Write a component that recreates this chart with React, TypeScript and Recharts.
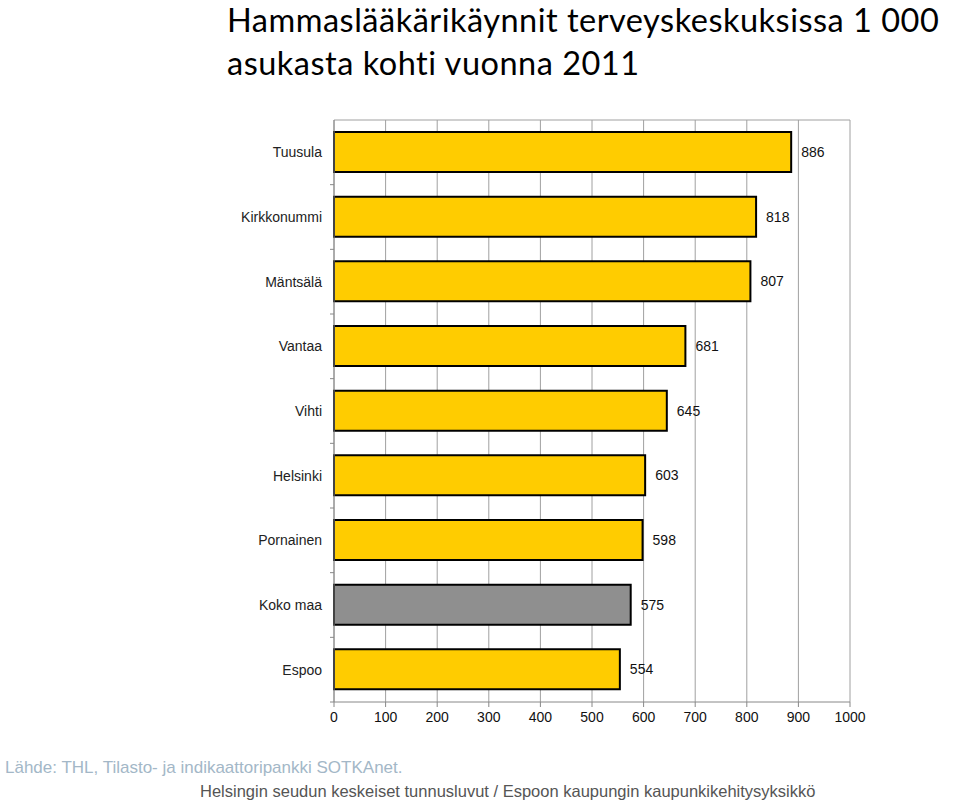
import { Bar, BarChart, CartesianGrid, Cell, LabelList, XAxis, YAxis } from "recharts"

const places = ["Tuusula", "Kirkkonummi", "Mäntsälä", "Vantaa", "Vihti", "Helsinki", "Pornainen", "Koko maa", "Espoo"]
const visits = [886, 818, 807, 681, 645, 603, 598, 575, 554]
const xTicks = [0, 100, 200, 300, 400, 500, 600, 700, 800, 900, 1000]

const data = places.map((name, i) => ({ name, value: visits[i] }))

const W = 960
const H = 803
const TOP = 120
const AXIS_Y = 702
const X_AXIS_H = 30
const BAND = (AXIS_Y - TOP) / places.length

const titleStyle = {
  position: "absolute" as const,
  left: 227,
  fontFamily: "Lato, 'Open Sans', sans-serif",
  fontSize: 32.5,
  letterSpacing: 0.5,
  lineHeight: "34px",
  color: "#000",
  whiteSpace: "nowrap" as const,
}

const CategoryTick = ({ x, y, payload }: any) => (
  <g>
    <text x={x - 4} y={y} dy={5} textAnchor="end" fontSize={14} fill="#222" fontFamily="Liberation Sans, Arial">
      {payload.value}
    </text>
    <line x1={x + 4} x2={x + 8} y1={y + BAND / 2} y2={y + BAND / 2} stroke="#888" />
  </g>
)

export default function App() {
  return (
    <div style={{ position: "absolute", left: 0, top: 0, width: W, height: H, background: "#fff", overflow: "hidden" }}>
      <div style={{ ...titleStyle, top: 3 }}>Hammaslääkärikäynnit terveyskeskuksissa 1 000</div>
      <div style={{ ...titleStyle, top: 46 }}>asukasta kohti vuonna 2011</div>
      <BarChart
        width={W}
        height={H}
        data={data}
        layout="vertical"
        margin={{ top: TOP, right: 110, bottom: H - AXIS_Y - X_AXIS_H, left: 0 }}
        barSize={40}
      >
        <CartesianGrid stroke="#a0a0a0" horizontalPoints={[TOP]} />
        <XAxis
          type="number"
          domain={[0, 1000]}
          ticks={xTicks}
          interval={0}
          height={X_AXIS_H}
          stroke="#888"
          tickSize={5}
          tickMargin={5}
          tick={{ fontSize: 14, fill: "#111", fontFamily: "Liberation Sans, Arial" }}
        />
        <YAxis
          type="category"
          dataKey="name"
          width={334}
          stroke="#888"
          tickLine={false}
          tick={<CategoryTick />}
          interval={0}
        />
        <Bar dataKey="value" stroke="#000" strokeWidth={2} isAnimationActive={false}>
          {data.map((d) => (
            <Cell key={d.name} fill={d.name === "Koko maa" ? "#8f8f8f" : "#ffcc00"} />
          ))}
          <LabelList
            dataKey="value"
            position="right"
            offset={10}
            fontSize={14}
            fill="#111"
            fontFamily="Liberation Sans, Arial"
          />
        </Bar>
      </BarChart>
      <div
        style={{
          position: "absolute",
          left: 5,
          top: 758,
          fontFamily: "Liberation Sans, Arial",
          fontSize: 17,
          color: "#a3b7c7",
          whiteSpace: "nowrap",
        }}
      >
        Lähde: THL, Tilasto- ja indikaattoripankki SOTKAnet.
      </div>
      <div
        style={{
          position: "absolute",
          left: 200,
          top: 782,
          fontFamily: "Liberation Sans, Arial",
          fontSize: 16.5,
          color: "#555",
          whiteSpace: "nowrap",
        }}
      >
        Helsingin seudun keskeiset tunnusluvut / Espoon kaupungin kaupunkikehitysyksikkö
      </div>
    </div>
  )
}
